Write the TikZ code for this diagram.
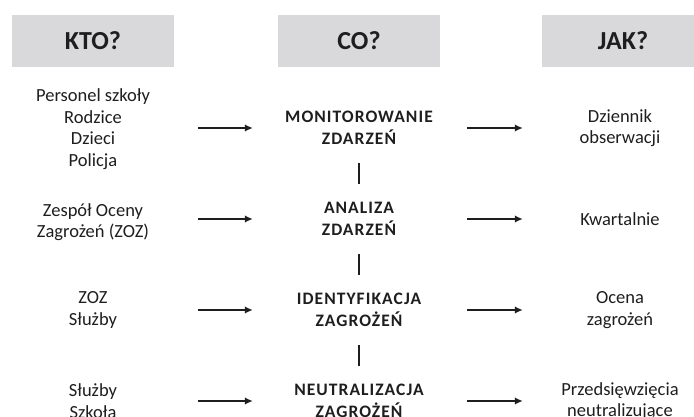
\documentclass[tikz,border=0pt]{standalone}
\usepackage{fontspec}
\setmainfont{Carlito}
\newfontfamily\spacedfont[LetterSpace=6]{Carlito}
\usetikzlibrary{arrows.meta}

\definecolor{hgrey}{HTML}{D9D9DB}
\definecolor{tgrey}{HTML}{1E1E1E}

\tikzset{
  head/.style={fill=hgrey, minimum width=162pt, minimum height=52pt,
    font=\fontsize{26}{30}\selectfont\bfseries, text=tgrey},
  who/.style={align=center, minimum width=162pt, inner sep=0pt,
    font=\fontsize{18.5}{21.5}\selectfont, text=tgrey},
  what/.style={align=center, minimum width=162pt, minimum height=70pt, inner sep=0pt,
    font=\spacedfont\bfseries\fontsize{17.5}{22}\selectfont, text=tgrey},
  how/.style={align=center, minimum width=162pt, inner sep=0pt,
    font=\fontsize{18.5}{21.5}\selectfont, text=tgrey},
  link/.style={-{Latex[length=8pt,width=7.5pt]}, line width=2pt, tgrey},
  bar/.style={line width=1.3pt, tgrey}
}

\begin{document}
\begin{tikzpicture}[x=1pt,y=-1pt]
  \useasboundingbox (0,0) rectangle (694,417);
  \clip (0,0) rectangle (694,417);

  % naglowki
  \node[head] (kto) at (93,41) {KTO?};
  \node[head] (co) at (359,41) {CO?};
  \node[head] (jak) at (623,41) {JAK?};

  % wiersz 1
  \node[who] (who1) at (93,129) {Personel szkoły\\Rodzice\\Dzieci\\Policja};
  \node[what] (what1) at (359,128) {MONITOROWANIE\\ZDARZEŃ};
  \node[how] (how1) at (620,128) {Dziennik\\obserwacji};

  % wiersz 2
  \node[who] (who2) at (93,222) {Zespół Oceny\\Zagrożeń (ZOZ)};
  \node[what] (what2) at (359,219) {ANALIZA\\ZDARZEŃ};
  \node[how] (how2) at (620,219) {Kwartalnie};

  % wiersz 3
  \node[who] (who3) at (93,310) {ZOZ\\Służby};
  \node[what] (what3) at (359,310) {IDENTYFIKACJA\\ZAGROŻEŃ};
  \node[how] (how3) at (620,310) {Ocena\\zagrożeń};

  % wiersz 4
  \node[who] (who4) at (93,401) {Służby\\Szkoła};
  \node[what] (what4) at (359,401) {NEUTRALIZACJA\\ZAGROŻEŃ};
  \node[how] (how4) at (620,401) {Przedsięwzięcia\\neutralizujące};

  % strzalki
  \foreach \i in {1,...,4}{
    \draw[link, shorten <=24pt, shorten >=25pt] (who\i.east |- what\i.west) -- (what\i.west);
    \draw[link, shorten <=27pt, shorten >=16pt] (what\i.east) -- (how\i.west |- what\i.east);
  }

  % kreski
  \draw[bar] (what1) -- (what2);
  \draw[bar] (what2) -- (what3);
  \draw[bar] (what3) -- (what4);
\end{tikzpicture}
\end{document}
